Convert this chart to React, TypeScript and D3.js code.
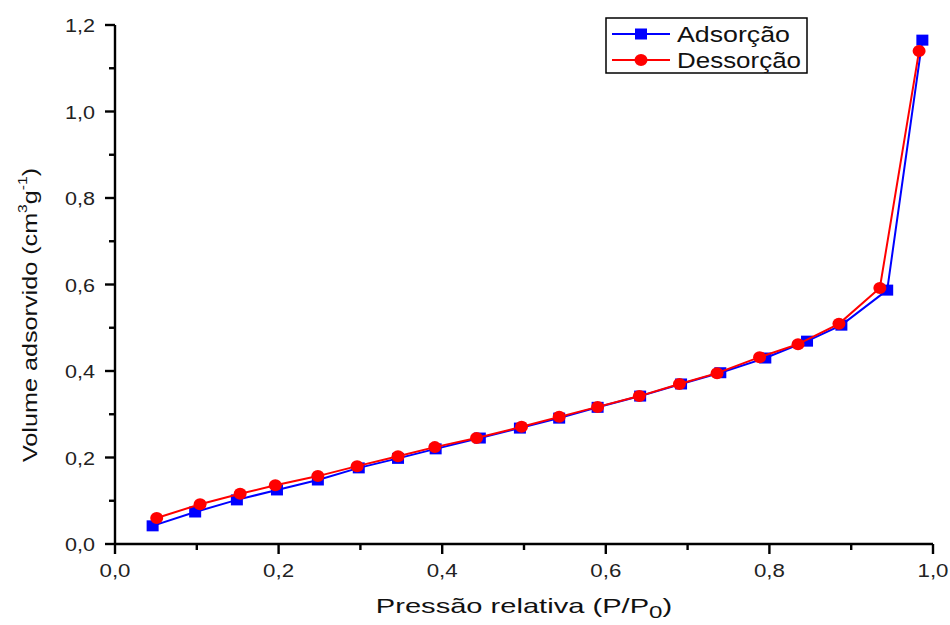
import React from "react";
import * as d3 from "d3";

// Adsorção (blue squares) and Dessorção (red circles)
const adsX = [0.046, 0.098, 0.149, 0.198, 0.248, 0.298, 0.346, 0.392, 0.446, 0.495, 0.543, 0.590, 0.642, 0.692, 0.740, 0.795, 0.846, 0.888, 0.944, 0.987];
const adsY = [0.042, 0.074, 0.102, 0.125, 0.148, 0.176, 0.198, 0.220, 0.245, 0.268, 0.291, 0.316, 0.342, 0.370, 0.396, 0.430, 0.469, 0.506, 0.587, 1.165];
const desX = [0.051, 0.104, 0.153, 0.196, 0.248, 0.296, 0.346, 0.391, 0.442, 0.497, 0.543, 0.590, 0.641, 0.690, 0.736, 0.788, 0.835, 0.885, 0.935, 0.983];
const desY = [0.060, 0.092, 0.116, 0.136, 0.157, 0.180, 0.203, 0.224, 0.245, 0.271, 0.294, 0.317, 0.342, 0.370, 0.395, 0.432, 0.462, 0.509, 0.592, 1.140];

const xTicks = [0, 0.2, 0.4, 0.6, 0.8, 1.0];
const yTicks = [0, 0.2, 0.4, 0.6, 0.8, 1.0, 1.2];
const xMinor = [0.1, 0.3, 0.5, 0.7, 0.9];
const yMinor = [0.1, 0.3, 0.5, 0.7, 0.9, 1.1];

const W = 950;
const H = 625;
const font = "'Liberation Sans', Arial, sans-serif";

const fmt = (v: number) => v.toFixed(1).replace(".", ",");

export default function App() {
  const x = d3.scaleLinear().domain([0, 1]).range([115, 933]);
  const y = d3.scaleLinear().domain([0, 1.2]).range([544, 25]);

  const ads = adsX.map((v, i) => [v, adsY[i]] as [number, number]);
  const des = desX.map((v, i) => [v, desY[i]] as [number, number]);
  const line = d3
    .line<[number, number]>()
    .x(d => x(d[0]))
    .y(d => y(d[1]));

  const blue = "#0000ff";
  const red = "#ff0000";

  return (
    <div style={{ position: "absolute", left: 0, top: 0 }}>
      <svg width={W} height={H} style={{ display: "block", background: "#fff" }}>
        {/* axes */}
        <g stroke="#000" strokeWidth={2.4} fill="none">
          <line x1={x(0)} x2={x(1)} y1={y(0)} y2={y(0)} />
          <line x1={x(0)} x2={x(0)} y1={y(0)} y2={y(1.2)} />
          {xTicks.map(t => (
            <line key={`xt${t}`} x1={x(t)} x2={x(t)} y1={y(0)} y2={y(0) + 10} />
          ))}
          {xMinor.map(t => (
            <line key={`xm${t}`} x1={x(t)} x2={x(t)} y1={y(0)} y2={y(0) + 6} />
          ))}
          {yTicks.map(t => (
            <line key={`yt${t}`} x1={x(0) - 10} x2={x(0)} y1={y(t)} y2={y(t)} />
          ))}
          {yMinor.map(t => (
            <line key={`ym${t}`} x1={x(0) - 6} x2={x(0)} y1={y(t)} y2={y(t)} />
          ))}
        </g>
        <g fontFamily={font} fontSize={18.5} fill="#222">
          {xTicks.map(t => (
            <text key={`xl${t}`} x={x(t) - 15.5} y={577} textLength={31} lengthAdjust="spacingAndGlyphs">
              {fmt(t)}
            </text>
          ))}
          {yTicks.map(t => (
            <text key={`yl${t}`} x={65} y={y(t) + 7} textLength={30} lengthAdjust="spacingAndGlyphs">
              {fmt(t)}
            </text>
          ))}
        </g>

        {/* axis titles */}
        <text
          transform="translate(524,613) scale(1.42,1)"
          textAnchor="middle"
          fontFamily={font}
          fontSize={20.5}
          fill="#111"
        >
          Pressão relativa (P/P
          <tspan fontSize={17} dy={5}>0</tspan>
          <tspan dy={-5}>)</tspan>
        </text>
        <text
          transform="translate(37,315) rotate(-90) scale(1.2,1)"
          textAnchor="middle"
          fontFamily={font}
          fontSize={21}
          fill="#111"
        >
          Volume adsorvido (cm
          <tspan fontSize={13} dy={-10}>3</tspan>
          <tspan dy={10}>g</tspan>
          <tspan fontSize={13} dy={-10}>-1</tspan>
          <tspan dy={10}>)</tspan>
        </text>

        {/* series */}
        <path d={line(ads) ?? ""} fill="none" stroke={blue} strokeWidth={2} />
        {ads.map((d, i) => (
          <rect key={`a${i}`} x={x(d[0]) - 6} y={y(d[1]) - 5.5} width={12} height={11} fill={blue} />
        ))}
        <path d={line(des) ?? ""} fill="none" stroke={red} strokeWidth={2} />
        {des.map((d, i) => (
          <ellipse key={`d${i}`} cx={x(d[0])} cy={y(d[1])} rx={6.5} ry={6} fill={red} />
        ))}

        {/* legend */}
        <rect x={606} y={18} width={201} height={55} fill="#fff" stroke="#000" strokeWidth={1.5} />
        <line x1={612} x2={670} y1={34} y2={34} stroke={blue} strokeWidth={2} />
        <rect x={635} y={28.5} width={12} height={11} fill={blue} />
        <text x={677} y={42} fontFamily={font} fontSize={22} fill="#111" textLength={113} lengthAdjust="spacingAndGlyphs">
          Adsorção
        </text>
        <line x1={612} x2={670} y1={60} y2={60} stroke={red} strokeWidth={2} />
        <ellipse cx={641} cy={60} rx={6.5} ry={6} fill={red} />
        <text x={677} y={68} fontFamily={font} fontSize={22} fill="#111" textLength={124} lengthAdjust="spacingAndGlyphs">
          Dessorção
        </text>
      </svg>
    </div>
  );
}
